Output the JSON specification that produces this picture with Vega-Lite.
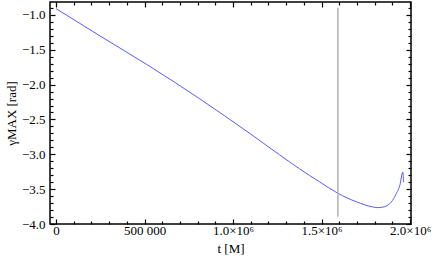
{
  "$schema": "https://vega.github.io/schema/vega-lite/v6.json",
  "width": 361,
  "height": 222,
  "autosize": {"type": "none"},
  "padding": {"left": 50, "top": 2, "right": 25, "bottom": 39},
  "background": "white",
  "config": {
    "view": {"stroke": "black", "strokeWidth": 1.5},
    "axis": {"grid": false, "domain": false}
  },
  "datasets": {
    "curve": [
      {"t": 0, "y": -0.91},
      {"t": 248166, "y": -1.301},
      {"t": 530175, "y": -1.739},
      {"t": 812183, "y": -2.205},
      {"t": 1094191, "y": -2.7},
      {"t": 1263395, "y": -3.009},
      {"t": 1376198, "y": -3.21},
      {"t": 1489002, "y": -3.396},
      {"t": 1590525, "y": -3.557},
      {"t": 1697688, "y": -3.683},
      {"t": 1787930, "y": -3.755},
      {"t": 1816131, "y": -3.765},
      {"t": 1846024, "y": -3.758},
      {"t": 1893401, "y": -3.686},
      {"t": 1921602, "y": -3.565},
      {"t": 1944162, "y": -3.422},
      {"t": 1955443, "y": -3.27},
      {"t": 1958827, "y": -3.255},
      {"t": 1962775, "y": -3.399}
    ],
    "marker": [{"t": 1592000, "y1": -0.897, "y2": -3.895}]
  },
  "resolve": {"axis": {"x": "independent", "y": "independent"}},
  "layer": [
    {
      "data": {"name": "curve"},
      "mark": {"type": "line", "color": "#5a5aff", "strokeWidth": 1, "interpolate": "monotone", "clip": true},
      "encoding": {
        "x": {
          "field": "t", "type": "quantitative",
          "scale": {"domain": [-34000, 2005000], "nice": false, "zero": false},
          "axis": {
            "orient": "bottom",
            "values": [0, 100000, 200000, 300000, 400000, 500000, 600000, 700000, 800000, 900000, 1000000, 1100000, 1200000, 1300000, 1400000, 1500000, 1600000, 1700000, 1800000, 1900000, 2000000],
            "tickColor": "black",
            "tickWidth": 1.2,
            "tickSize": {"condition": {"test": "datum.value % 500000 == 0", "value": -5}, "value": -3},
            "labelPadding": 5,
            "labelFont": "Liberation Serif",
            "labelFontSize": 13,
            "labelColor": "black",
            "labelExpr": "datum.value == 0 ? '0' : datum.value == 500000 ? '500 000' : datum.value % 500000 == 0 ? format(datum.value / 1000000, '.1f') + '×10⁶' : ''",
            "labelFlush": false,
            "labelOverlap": false,
            "title": "t [M]",
            "titleFont": "Liberation Serif",
            "titleFontSize": 13,
            "titleFontWeight": "normal",
            "titleColor": "black",
            "titlePadding": 3
          }
        },
        "y": {
          "field": "y", "type": "quantitative",
          "scale": {"domain": [-4.0, -0.815], "nice": false, "zero": false},
          "axis": {
            "orient": "left",
            "values": [-4.0, -3.9, -3.8, -3.7, -3.6, -3.5, -3.4, -3.3, -3.2, -3.1, -3.0, -2.9, -2.8, -2.7, -2.6, -2.5, -2.4, -2.3, -2.2, -2.1, -2.0, -1.9, -1.8, -1.7, -1.6, -1.5, -1.4, -1.3, -1.2, -1.1, -1.0, -0.9],
            "tickColor": "black",
            "tickWidth": 1.2,
            "tickSize": {"condition": {"test": "abs(datum.value * 2 - round(datum.value * 2)) < 0.001", "value": -5}, "value": -3},
            "labelPadding": 10,
            "labelFont": "Liberation Serif",
            "labelFontSize": 13,
            "labelColor": "black",
            "labelExpr": "abs(datum.value * 2 - round(datum.value * 2)) < 0.001 ? format(datum.value, '.1f') : ''",
            "labelFlush": false,
            "labelOverlap": false,
            "title": "γMAX [rad]",
            "titleFont": "Liberation Serif",
            "titleFontSize": 13,
            "titleFontWeight": "normal",
            "titleColor": "black",
            "titlePadding": 3
          }
        }
      }
    },
    {
      "data": {"name": "marker"},
      "mark": {"type": "rule", "color": "#b0b0b0", "strokeWidth": 1.5},
      "encoding": {
        "x": {
          "field": "t", "type": "quantitative",
          "axis": {
            "orient": "top",
            "values": [0, 100000, 200000, 300000, 400000, 500000, 600000, 700000, 800000, 900000, 1000000, 1100000, 1200000, 1300000, 1400000, 1500000, 1600000, 1700000, 1800000, 1900000, 2000000],
            "tickColor": "black",
            "tickWidth": 1.2,
            "tickSize": {"condition": {"test": "datum.value % 500000 == 0", "value": -5}, "value": -3},
            "labels": false, "title": null
          }
        },
        "y": {
          "field": "y1", "type": "quantitative",
          "axis": {
            "orient": "right",
            "values": [-4.0, -3.9, -3.8, -3.7, -3.6, -3.5, -3.4, -3.3, -3.2, -3.1, -3.0, -2.9, -2.8, -2.7, -2.6, -2.5, -2.4, -2.3, -2.2, -2.1, -2.0, -1.9, -1.8, -1.7, -1.6, -1.5, -1.4, -1.3, -1.2, -1.1, -1.0, -0.9],
            "tickColor": "black",
            "tickWidth": 1.2,
            "tickSize": {"condition": {"test": "abs(datum.value * 2 - round(datum.value * 2)) < 0.001", "value": -5}, "value": -3},
            "labels": false, "title": null
          }
        },
        "y2": {"field": "y2"}
      }
    }
  ]
}
